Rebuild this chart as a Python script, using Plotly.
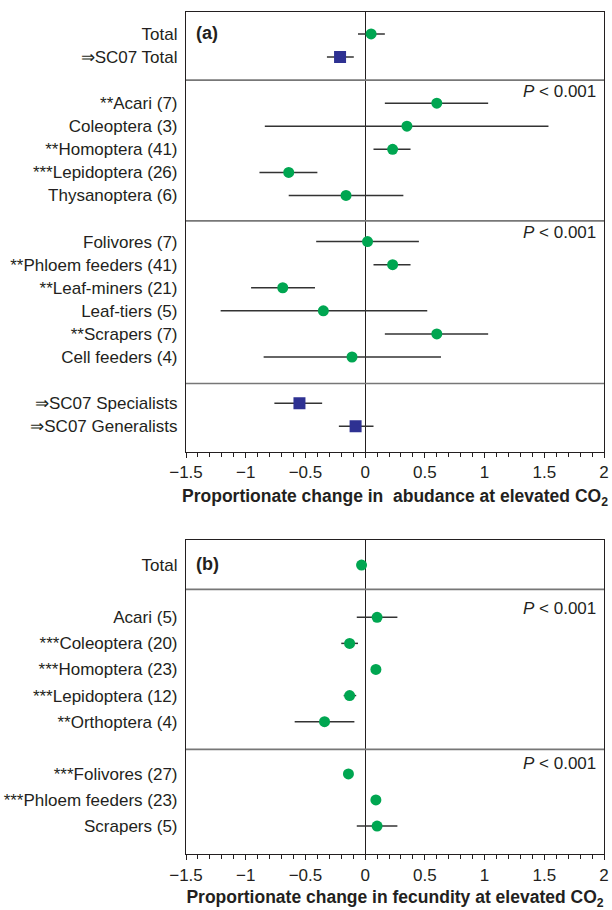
import plotly.graph_objects as go
from plotly.subplots import make_subplots

# ---------------- Panel (a): abundance ----------------
a_labels = ["Total", "⇒SC07 Total", "**Acari (7)", "Coleoptera (3)", "**Homoptera (41)",
            "***Lepidoptera (26)", "Thysanoptera (6)", "Folivores (7)", "**Phloem feeders (41)",
            "**Leaf-miners (21)", "Leaf-tiers (5)", "**Scrapers (7)", "Cell feeders (4)",
            "⇒SC07 Specialists", "⇒SC07 Generalists"]
a_rows = [0, 1, 3, 4, 5, 6, 7, 9, 10, 11, 12, 13, 14, 16, 17]
a_mean = [0.05, -0.21, 0.60, 0.35, 0.23, -0.64, -0.16, 0.02, 0.23, -0.69, -0.35, 0.60, -0.11, -0.55, -0.08]
a_low = [-0.06, -0.32, 0.165, -0.84, 0.07, -0.885, -0.64, -0.41, 0.07, -0.955, -1.21, 0.165, -0.85, -0.76, -0.22]
a_high = [0.165, -0.095, 1.03, 1.535, 0.38, -0.40, 0.32, 0.45, 0.38, -0.42, 0.52, 1.03, 0.635, -0.36, 0.07]
a_source = ["new", "SC07", "new", "new", "new", "new", "new", "new", "new", "new", "new", "new", "new", "SC07", "SC07"]
a_separators = [2.0, 8.1, 15.15]

# ---------------- Panel (b): fecundity ----------------
b_labels = ["Total", "Acari (5)", "***Coleoptera (20)", "***Homoptera (23)", "***Lepidoptera (12)",
            "**Orthoptera (4)", "***Folivores (27)", "***Phloem feeders (23)", "Scrapers (5)"]
b_rows = [0, 2, 3, 4, 5, 6, 8, 9, 10]
b_mean = [-0.03, 0.10, -0.13, 0.09, -0.13, -0.34, -0.14, 0.09, 0.10]
b_low = [-0.05, -0.07, -0.20, 0.07, -0.18, -0.59, -0.16, 0.07, -0.07]
b_high = [-0.01, 0.27, -0.06, 0.11, -0.075, -0.09, -0.12, 0.11, 0.27]
b_separators = [0.93, 7.06]

x_ticks = [-1.5, -1, -0.5, 0, 0.5, 1, 1.5, 2]

GREEN = "#00A651"
BLUE = "#2E3192"
TXT = "#231F20"
FONT = "Liberation Sans, Arial, Helvetica, sans-serif"

fig = make_subplots(rows=2, cols=1)


def add_panel(row, labels, rows, mean, low, high, source):
    colors = [BLUE if s == "SC07" else GREEN for s in source]
    symbols = ["square" if s == "SC07" else "circle" for s in source]
    sizes = [12 if s == "SC07" else 11 for s in source]
    fig.add_trace(go.Scatter(
        x=mean, y=rows, mode="markers",
        marker=dict(color=colors, symbol=symbols, size=sizes, opacity=1, line=dict(width=0)),
        error_x=dict(type="data", symmetric=False,
                     array=[h - m for h, m in zip(high, mean)],
                     arrayminus=[m - l for m, l in zip(mean, low)],
                     color="#333333", thickness=1.5, width=0),
        showlegend=False, hoverinfo="skip"), row=row, col=1)


add_panel(1, a_labels, a_rows, a_mean, a_low, a_high, a_source)
add_panel(2, b_labels, b_rows, b_mean, b_low, b_high, ["new"] * len(b_labels))

xcommon = dict(range=[-1.5, 2], tickvals=x_ticks, ticks="outside", ticklen=5, tickwidth=1,
               tickcolor="#231F20", automargin=False,
               minor=dict(tick0=-1.5, dtick=0.1, ticks="outside", ticklen=4, tickwidth=1, tickcolor="#231F20"),
               showline=True, mirror=True, linecolor="#231F20", linewidth=1.2,
               zeroline=True, zerolinecolor="#231F20", zerolinewidth=1.3,
               showgrid=False, tickfont=dict(size=17, color=TXT, family=FONT))
ycommon = dict(ticks="", showline=True, mirror=True, linecolor="#231F20", linewidth=1.2,
               showgrid=False, zeroline=False, ticklabelstandoff=4, automargin=False,
               tickfont=dict(size=17, color=TXT, family=FONT))

fig.update_xaxes(**xcommon)
fig.update_yaxes(**ycommon)

fig.update_layout(
    xaxis=dict(domain=[0, 1],
               title=dict(text="<b>Proportionate change in  abudance at elevated CO<sub>2</sub></b>",
                          font=dict(size=17.5, color=TXT, family=FONT), standoff=8)),
    xaxis2=dict(domain=[0, 1],
                title=dict(text="<b>Proportionate change in fecundity at elevated CO<sub>2</sub></b>",
                           font=dict(size=17.5, color=TXT, family=FONT), standoff=8)),
    yaxis=dict(domain=[0.4779, 1], range=[18.1, -0.95], tickvals=a_rows, ticktext=a_labels),
    yaxis2=dict(domain=[0, 0.3729], range=[11.07, -0.96], tickvals=b_rows, ticktext=b_labels),
)

shapes = []
for s in a_separators:
    shapes.append(dict(type="line", xref="x domain", yref="y", x0=0, x1=1, y0=s, y1=s,
                       line=dict(color="#777777", width=1.6)))
for s in b_separators:
    shapes.append(dict(type="line", xref="x2 domain", yref="y2", x0=0, x1=1, y0=s, y1=s,
                       line=dict(color="#777777", width=1.6)))

ann = []
ann.append(dict(text="<b>(a)</b>", xref="x domain", yref="y", x=0.02, y=-0.05, xanchor="left",
                yanchor="middle", showarrow=False, font=dict(size=18, color=TXT, family=FONT)))
ann.append(dict(text="<b>(b)</b>", xref="x2 domain", yref="y2", x=0.02, y=-0.05, xanchor="left",
                yanchor="middle", showarrow=False, font=dict(size=18, color=TXT, family=FONT)))
for yref, xref, yy in [("y", "x domain", 2.51), ("y", "x domain", 8.61),
                       ("y2", "x2 domain", 1.65), ("y2", "x2 domain", 7.62)]:
    ann.append(dict(text="<i>P</i> < 0.001", xref=xref, yref=yref, x=0.985, y=yy,
                    xanchor="right", yanchor="middle", showarrow=False,
                    font=dict(size=17, color=TXT, family=FONT)))

fig.update_layout(
    width=612, height=910,
    margin=dict(l=186, r=8, t=12, b=56, autoexpand=False),
    paper_bgcolor="white", plot_bgcolor="white",
    shapes=shapes, annotations=ann,
    font=dict(family=FONT, color=TXT),
)

fig.write_html("out.html", config={"displayModeBar": False},
               post_script="document.body.style.margin='0';document.body.style.padding='0';")
